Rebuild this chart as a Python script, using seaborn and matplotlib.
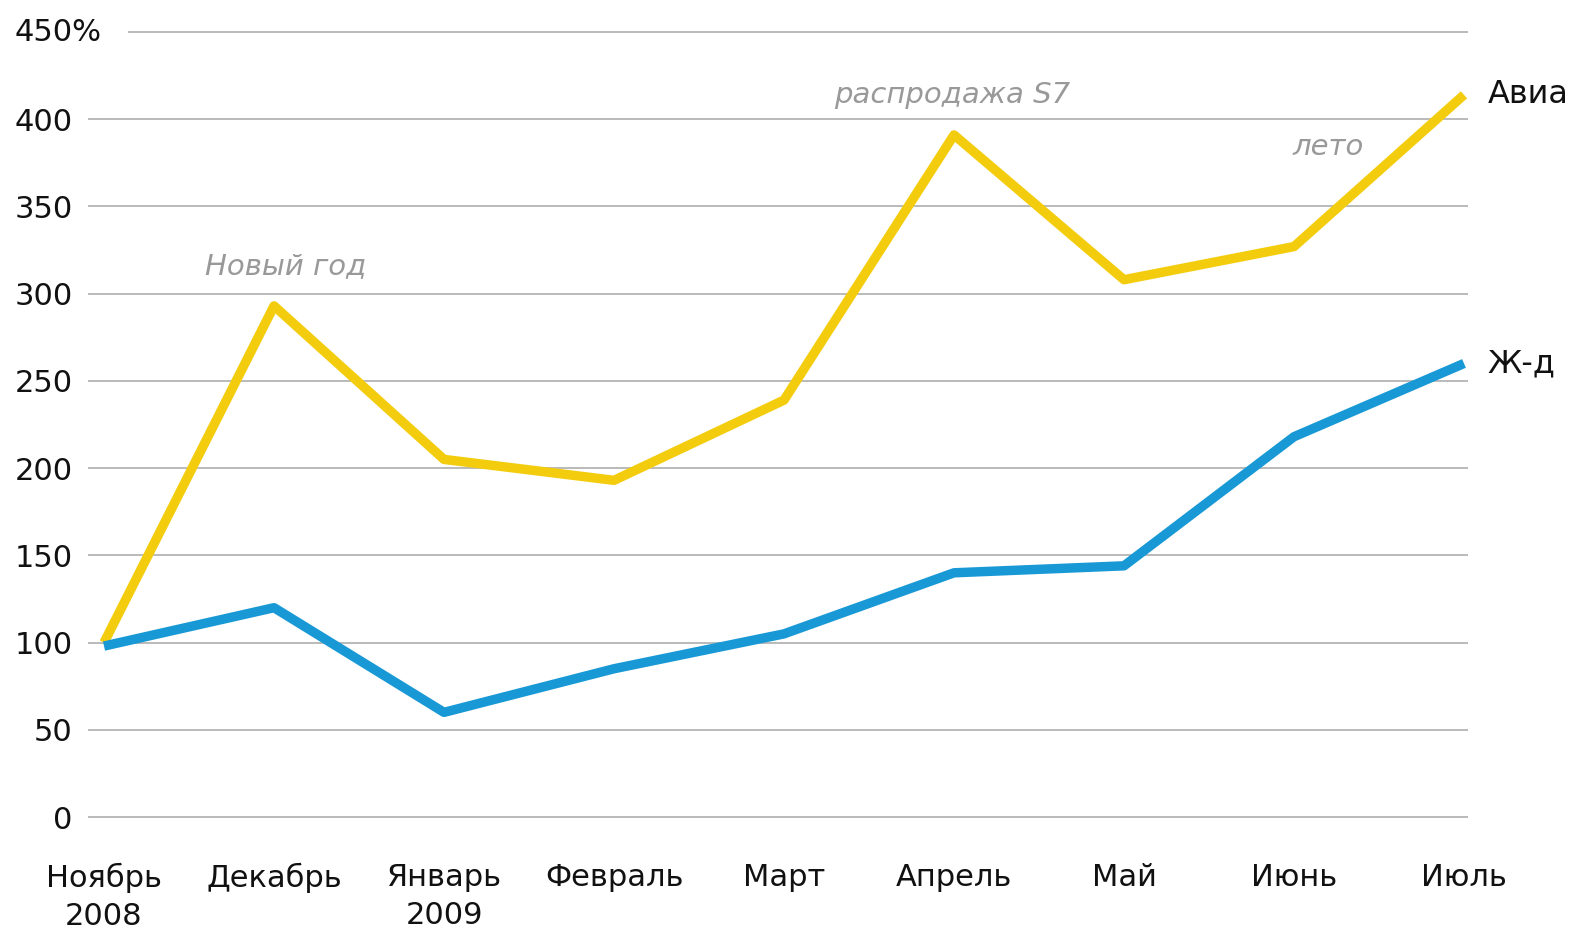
import pandas as pd
import matplotlib
matplotlib.use('Agg')
import matplotlib.pyplot as plt
import seaborn as sns

# данные (индекс, ноябрь 2008 = 100%)
months = ['Ноябрь\n2008', 'Декабрь', 'Январь\n2009', 'Февраль', 'Март',
          'Апрель', 'Май', 'Июнь', 'Июль']
avia = [100, 293, 205, 193, 239, 391, 308, 327, 414]
rail = [98, 120, 60, 85, 105, 140, 144, 218, 260]
series_names = ['Авиа', 'Ж-д']
y_ticks = [0, 50, 100, 150, 200, 250, 300, 350, 400, 450]

notes = ['Новый год', 'распродажа S7', 'лето']
note_x = [1.07, 4.99, 7.2]
note_y = [316, 414, 384]

colors = {'Авиа': '#F3CD0D', 'Ж-д': '#1899D6'}

df = pd.DataFrame({
    'x': list(range(len(months))) * 2,
    'value': avia + rail,
    'series': [series_names[0]] * len(months) + [series_names[1]] * len(months),
})

sns.set_style('white')
plt.rcParams['font.family'] = ['DejaVu Sans']

fig = plt.figure(figsize=(15.72, 9.33), dpi=100)
ax = fig.add_axes([0.056, 0.1243, 0.8779, 0.8414])

# сетка
for v in y_ticks:
    xmin = 0.029 if v == 450 else 0
    ax.axhline(v, xmin=xmin, xmax=1, color='#b4b4b4', lw=1.3, zorder=1)

sns.lineplot(data=df, x='x', y='value', hue='series', palette=colors,
             linewidth=6.8, legend=False, ax=ax, zorder=3)
for line in ax.lines:
    line.set_solid_capstyle('butt')
    line.set_clip_on(False)

ax.set_xlim(-0.094, 8.024)
ax.set_ylim(0, 450)
ax.set_xticks(range(len(months)))
ax.set_xticklabels(months, fontsize=22, color='#111111', linespacing=1.4)
ax.set_yticks(y_ticks)
ax.set_yticklabels([str(v) if v != 450 else '' for v in y_ticks],
                   fontsize=22, color='#111111')
ax.tick_params(axis='both', length=0)
ax.tick_params(axis='y', pad=11)
ax.tick_params(axis='x', pad=33)
ax.text(-0.0529, 450, '450%', transform=ax.get_yaxis_transform(),
        ha='left', va='center', fontsize=22, color='#111111')
ax.set_xlabel('')
ax.set_ylabel('')
sns.despine(ax=ax, left=True, bottom=True)

# подписи серий
ax.annotate(series_names[0], (len(months) - 1, avia[-1]), xytext=(17, 0),
            textcoords='offset points', ha='left', va='center',
            fontsize=23, color='#111111')
ax.annotate(series_names[1], (len(months) - 1, rail[-1]), xytext=(17, 0),
            textcoords='offset points', ha='left', va='center',
            fontsize=23, color='#111111')

# пояснения
for t, x, y in zip(notes, note_x, note_y):
    ax.text(x, y, t, ha='center', va='center', fontsize=21,
            style='italic', color='#999999')

fig.savefig('out.png', dpi=100)
plt.close(fig)
